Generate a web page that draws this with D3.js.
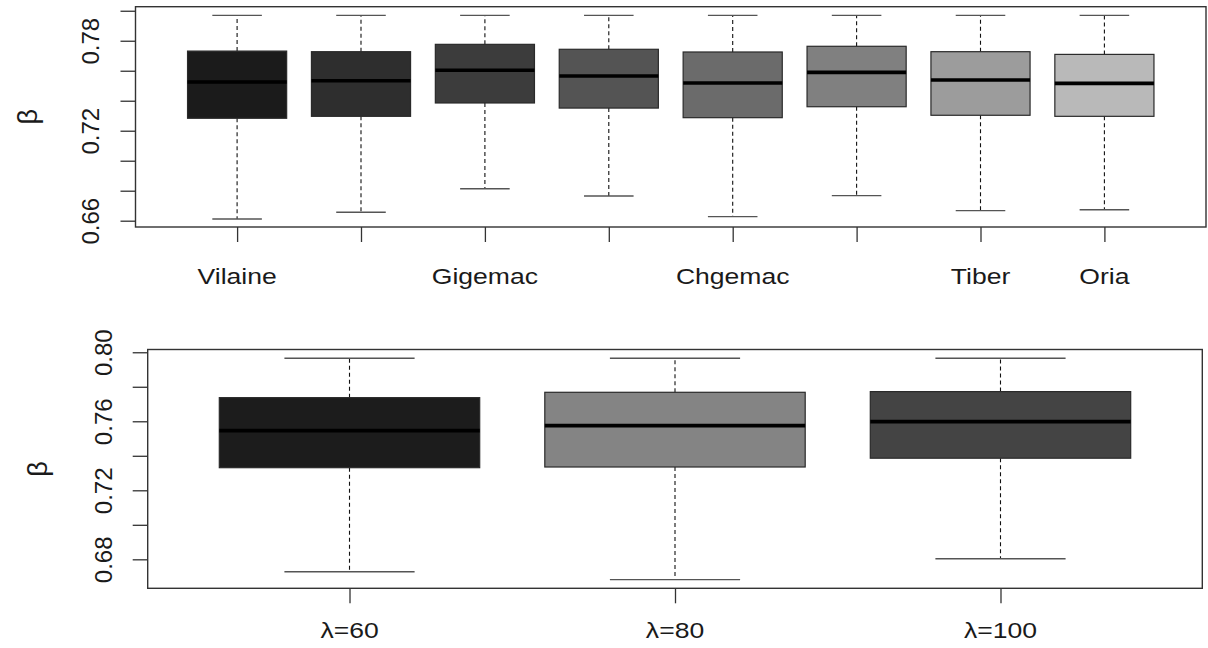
<!DOCTYPE html>
<html>
<head>
<meta charset="utf-8">
<script src="https://cdn.jsdelivr.net/npm/d3@7"></script>
<style>
  html, body { margin: 0; padding: 0; background: #fff; }
  svg { display: block; }
  text { font-family: "Liberation Sans", Arial, sans-serif; fill: #1a1a1a; }
</style>
</head>
<body>
<svg id="chart" width="1208" height="648"></svg>
<script>
// ---------------- data ----------------
const topCategories = ["Vilaine", "", "Gigemac", "", "Chgemac", "", "Tiber", "Oria"];
const topLowerWhisker = [0.6611, 0.6656, 0.6813, 0.6765, 0.6627, 0.6767, 0.6667, 0.6673];
const topQ1           = [0.7283, 0.7296, 0.7385, 0.7351, 0.7287, 0.7360, 0.7303, 0.7296];
const topMedian       = [0.7525, 0.7533, 0.7603, 0.7565, 0.7518, 0.7589, 0.7538, 0.7516];
const topQ3           = [0.7731, 0.7727, 0.7776, 0.7743, 0.7725, 0.7763, 0.7727, 0.7709];
const topUpperWhisker = [0.7969, 0.7969, 0.7969, 0.7969, 0.7969, 0.7969, 0.7969, 0.7969];
const topTicks = [0.66, 0.68, 0.70, 0.72, 0.74, 0.76, 0.78, 0.80];
const topTickLabels = ["0.66", "", "", "0.72", "", "", "0.78", ""];

const bottomCategories = ["\u03bb=60", "\u03bb=80", "\u03bb=100"];
const bottomLowerWhisker = [0.6728, 0.6682, 0.6803];
const bottomQ1           = [0.7331, 0.7335, 0.7386];
const bottomMedian       = [0.7546, 0.7575, 0.7598];
const bottomQ3           = [0.7737, 0.7768, 0.7772];
const bottomUpperWhisker = [0.7965, 0.7965, 0.7965];
const bottomTicks = [0.68, 0.70, 0.72, 0.74, 0.76, 0.78, 0.80];
const bottomTickLabels = ["0.68", "", "0.72", "", "0.76", "", "0.80"];

const yTitle = "\u03b2";

// ---------------- styles ----------------
const topColors = ["#1b1b1b", "#2e2e2e", "#3c3c3c", "#545454", "#6b6b6b", "#808080", "#9c9c9c", "#b9b9b9"];
const bottomColors = ["#1c1c1c", "#848484", "#444444"];

const svg = d3.select("#chart");

function panel(opts) {
  const { cats, lo, q1, med, q3, hi, colors, ticks, tickLabels,
          left, right, top, bottom, xDomain, yDomain,
          xLabelBaseline, xLabelSize, yLabelOffset, yLabelSize, titleX, tickLen } = opts;
  const n = cats.length;
  const x = d3.scaleLinear().domain(xDomain).range([left, right]);
  const y = d3.scaleLinear().domain(yDomain).range([bottom, top]);
  const g = svg.append("g");
  const boxW = 0.8, capW = 0.4;
  const idx = d3.range(n);

  // whiskers (dashed)
  g.selectAll(".wl").data(idx).join("line")
    .attr("x1", i => x(i + 1)).attr("x2", i => x(i + 1))
    .attr("y1", i => y(q1[i])).attr("y2", i => y(lo[i]))
    .attr("stroke", "#111").attr("stroke-width", 1.1).attr("stroke-dasharray", "4,3");
  g.selectAll(".wh").data(idx).join("line")
    .attr("x1", i => x(i + 1)).attr("x2", i => x(i + 1))
    .attr("y1", i => y(q3[i])).attr("y2", i => y(hi[i]))
    .attr("stroke", "#111").attr("stroke-width", 1.1).attr("stroke-dasharray", "4,3");
  // staples
  [lo, hi].forEach(arr => {
    g.append("g").selectAll("line").data(idx).join("line")
      .attr("x1", i => x(i + 1 - capW / 2)).attr("x2", i => x(i + 1 + capW / 2))
      .attr("y1", i => y(arr[i])).attr("y2", i => y(arr[i]))
      .attr("stroke", "#555").attr("stroke-width", 1.4);
  });
  // boxes
  g.selectAll(".box").data(idx).join("rect")
    .attr("x", i => x(i + 1 - boxW / 2))
    .attr("width", i => x(i + 1 + boxW / 2) - x(i + 1 - boxW / 2))
    .attr("y", i => y(q3[i]))
    .attr("height", i => y(q1[i]) - y(q3[i]))
    .attr("fill", i => colors[i]).attr("stroke", "#2a2a2a").attr("stroke-width", 1.2);
  // medians
  g.selectAll(".med").data(idx).join("line")
    .attr("x1", i => x(i + 1 - boxW / 2)).attr("x2", i => x(i + 1 + boxW / 2))
    .attr("y1", i => y(med[i])).attr("y2", i => y(med[i]))
    .attr("stroke", "#000").attr("stroke-width", 3.6);

  // frame
  g.append("rect")
    .attr("x", x(xDomain[0])).attr("y", y(yDomain[1]))
    .attr("width", x(xDomain[1]) - x(xDomain[0]))
    .attr("height", y(yDomain[0]) - y(yDomain[1]))
    .attr("fill", "none").attr("stroke", "#333").attr("stroke-width", 1.4);

  // y axis
  const yAxis = d3.axisLeft(y).tickValues(ticks).tickSize(tickLen).tickFormat((d, i) => tickLabels[i]);
  const ya = g.append("g").attr("transform", `translate(${x(xDomain[0])},0)`).call(yAxis);
  ya.select(".domain").remove();
  ya.selectAll(".tick line").attr("stroke", "#333").attr("stroke-width", 1.3);
  ya.selectAll(".tick text")
    .attr("x", null).attr("dy", null)
    .attr("transform", `translate(${-yLabelOffset},0) rotate(-90)`)
    .attr("text-anchor", "middle")
    .attr("font-family", "Liberation Sans, Arial, sans-serif")
    .attr("font-size", yLabelSize).attr("fill", "#1a1a1a");

  // x axis
  const xAxis = d3.axisBottom(x).tickValues(d3.range(1, n + 1)).tickSize(tickLen).tickFormat("");
  const xa = g.append("g").attr("transform", `translate(0,${y(yDomain[0])})`).call(xAxis);
  xa.select(".domain").remove();
  xa.selectAll(".tick line").attr("stroke", "#333").attr("stroke-width", 1.3);
  g.selectAll(".xl").data(idx).join("text")
    .attr("transform", i => `translate(${x(i + 1)},${xLabelBaseline}) scale(1.18,1)`)
    .attr("text-anchor", "middle")
    .attr("font-size", xLabelSize)
    .text(i => cats[i]);

  // y title
  g.append("text")
    .attr("transform", `translate(${titleX},${(top + bottom) / 2}) rotate(-90)`)
    .attr("text-anchor", "middle")
    .attr("font-size", 27)
    .text(yTitle);
}

panel({
  cats: topCategories, lo: topLowerWhisker, q1: topQ1, med: topMedian, q3: topQ3, hi: topUpperWhisker,
  colors: topColors, ticks: topTicks, tickLabels: topTickLabels,
  left: 135.5, right: 1206, top: 6.7, bottom: 227,
  xDomain: [0.18, 8.82], yDomain: [0.6558, 0.8027],
  xLabelBaseline: 284, xLabelSize: 22.5, yLabelOffset: 37, yLabelSize: 24, titleX: 37, tickLen: 15
});

panel({
  cats: bottomCategories, lo: bottomLowerWhisker, q1: bottomQ1, med: bottomMedian, q3: bottomQ3, hi: bottomUpperWhisker,
  colors: bottomColors, ticks: bottomTicks, tickLabels: bottomTickLabels,
  left: 147.7, right: 1202.3, top: 349.5, bottom: 588.3,
  xDomain: [0.38, 3.62], yDomain: [0.6632, 0.8016],
  xLabelBaseline: 638, xLabelSize: 22.5, yLabelOffset: 36, yLabelSize: 24, titleX: 47, tickLen: 15
});
</script>
</body>
</html>
